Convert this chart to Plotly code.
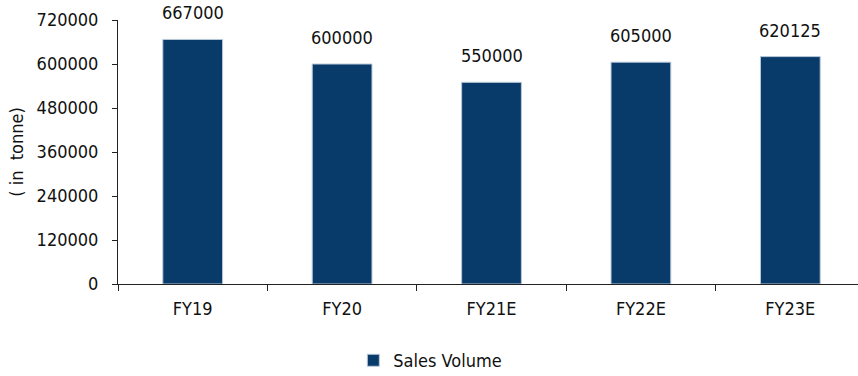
import plotly.graph_objects as go

categories = ["FY19", "FY20", "FY21E", "FY22E", "FY23E"]
sales_volume = [667000, 600000, 550000, 605000, 620125]
y_ticks = [0, 120000, 240000, 360000, 480000, 600000, 720000]

FONT = "DejaVu Sans Condensed, Roboto, sans-serif"
TEXT_COLOR = "#111111"

fig = go.Figure()
fig.add_trace(go.Bar(
    x=categories,
    y=sales_volume,
    name="Sales Volume",
    width=0.4,
    marker=dict(color="#083a6a", line=dict(color="#b9c9da", width=1)),
))

# value labels floating above each bar
for cat, val in zip(categories, sales_volume):
    fig.add_annotation(
        x=cat, y=val, text=str(val),
        showarrow=False, yanchor="bottom", yshift=14,
        font=dict(family=FONT, size=18, color=TEXT_COLOR),
    )

fig.update_layout(
    width=858,
    height=376,
    margin=dict(l=118, r=0, t=20, b=92, autoexpand=False),
    paper_bgcolor="white",
    plot_bgcolor="white",
    font=dict(family=FONT, size=18, color=TEXT_COLOR),
    showlegend=True,
    legend=dict(
        orientation="h",
        x=0.318, xanchor="left",
        y=-0.22, yanchor="top",
        font=dict(family=FONT, size=18, color=TEXT_COLOR),
        itemwidth=30,
    ),
    bargap=0.6,
)

fig.update_xaxes(
    range=[-0.5, 4.453],
    showline=True, linecolor="#222222", linewidth=1,
    ticks="outside", tickson="boundaries", ticklen=6, tickcolor="#222222",
    showgrid=False,
    ticklabelstandoff=8,
    tickfont=dict(family=FONT, size=18),
)
fig.update_yaxes(
    range=[0, 720000],
    tickvals=y_ticks,
    ticktext=[str(v) for v in y_ticks],
    showline=True, linecolor="#222222", linewidth=1,
    ticks="outside", ticklen=5, tickcolor="#222222",
    showgrid=False, zeroline=False,
    ticklabelstandoff=10,
    tickfont=dict(family=FONT, size=18),
    title=dict(text="( in  tonne)", font=dict(family=FONT, size=18), standoff=8),
)

fig.write_html("out.html")
